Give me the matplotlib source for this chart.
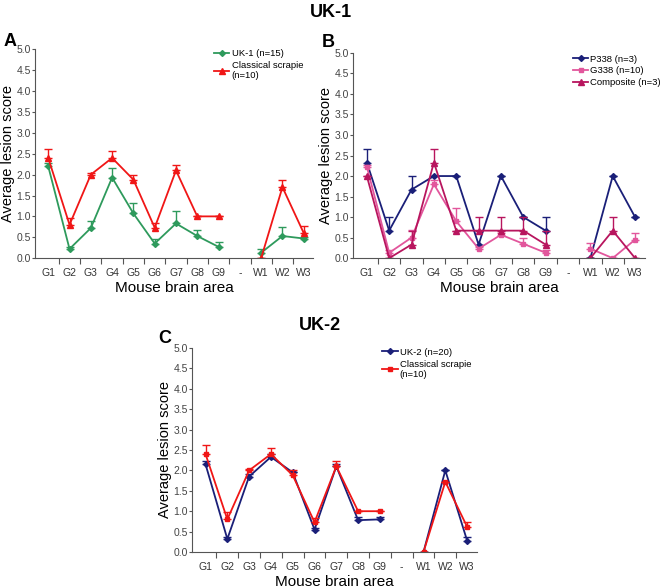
import numpy as np
import matplotlib
matplotlib.use("Agg")
import matplotlib.pyplot as plt

plt.rcParams["font.family"] = ["Liberation Sans", "DejaVu Sans"]

nan = np.nan
areas = ["G1", "G2", "G3", "G4", "G5", "G6", "G7", "G8", "G9", "-", "W1", "W2", "W3"]

# Panel A
uk1 = [2.2, 0.22, 0.72, 1.93, 1.07, 0.35, 0.83, 0.53, 0.27, nan, 0.13, 0.53, 0.47]
uk1_err = [0.08, 0.05, 0.18, 0.24, 0.25, 0.1, 0.3, 0.14, 0.11, nan, 0.09, 0.22, 0.04]
scrapie = [2.4, 0.8, 2.0, 2.4, 1.88, 0.73, 2.1, 1.0, 1.0, nan, 0.0, 1.7, 0.6]
scrapie_err = [0.22, 0.17, 0.03, 0.16, 0.12, 0.1, 0.12, 0.0, 0.0, nan, 0.0, 0.16, 0.16]

# Panel B
p338 = [2.33, 0.67, 1.67, 2.0, 2.0, 0.33, 2.0, 1.0, 0.67, nan, 0.0, 2.0, 1.0]
p338_err = [0.33, 0.33, 0.33, 0.0, 0.0, 0.0, 0.0, 0.0, 0.33, nan, 0.0, 0.0, 0.0]
g338 = [2.23, 0.13, 0.5, 1.8, 0.9, 0.23, 0.57, 0.35, 0.13, nan, 0.23, 0.0, 0.45]
g338_err = [0.05, 0.07, 0.18, 0.1, 0.33, 0.03, 0.05, 0.15, 0.07, nan, 0.14, 0.0, 0.17]
composite = [2.0, 0.0, 0.33, 2.33, 0.67, 0.67, 0.67, 0.67, 0.33, nan, 0.0, 0.67, 0.0]
composite_err = [0.0, 0.0, 0.33, 0.33, 0.0, 0.33, 0.33, 0.33, 0.33, nan, 0.0, 0.33, 0.0]

# Panel C
uk2 = [2.15, 0.32, 1.85, 2.33, 1.95, 0.55, 2.1, 0.78, 0.8, nan, 0.0, 2.0, 0.28]
uk2_err = [0.07, 0.05, 0.05, 0.07, 0.02, 0.05, 0.05, 0.09, 0.07, nan, 0.0, 0.0, 0.09]
scrapie_c = [2.4, 0.8, 2.0, 2.4, 1.88, 0.73, 2.1, 1.0, 1.0, nan, 0.0, 1.72, 0.62]
scrapie_c_err = [0.22, 0.17, 0.03, 0.16, 0.12, 0.1, 0.12, 0.0, 0.0, nan, 0.0, 0.0, 0.12]

GREEN = "#2e9a5c"
RED = "#f01616"
NAVY = "#1a1f78"
PINK = "#e2569c"
MAGENTA = "#b8155e"
GREY = "#555555"

fig = plt.figure(figsize=(6.61, 5.88), dpi=100)
x = np.arange(len(areas))


def style(ax):
    ax.set_xlim(-0.62, 12.45)
    ax.set_ylim(0, 5.0)
    ax.set_yticks(np.arange(0, 5.01, 0.5))
    ax.set_yticklabels([f"{v:.1f}" for v in np.arange(0, 5.01, 0.5)])
    ax.set_xticks(x)
    ax.set_xticklabels(areas)
    ax.set_xticks(np.arange(0.5, 12.0, 1.0), minor=True)
    ax.tick_params(axis="x", which="major", length=0, pad=7, labelsize=7.5, colors="#333333")
    ax.tick_params(axis="x", which="minor", length=4, width=0.8, color=GREY)
    ax.tick_params(axis="y", length=2, width=0.8, color=GREY, labelsize=7.5, labelcolor="#444444", pad=1)
    for s in ["top", "right"]:
        ax.spines[s].set_visible(False)
    for s in ["left", "bottom"]:
        ax.spines[s].set_color(GREY)
        ax.spines[s].set_linewidth(0.8)
    ax.set_xlabel("Mouse brain area", fontsize=11, labelpad=2)
    ax.set_ylabel("Average lesion score", fontsize=10.5, labelpad=1)


def series(ax, y, err, color, marker, ms, label):
    y = np.array(y, dtype=float)
    err = np.array(err, dtype=float)
    ax.errorbar(x, y, yerr=[np.zeros_like(err), err], fmt="none", ecolor=color,
                elinewidth=1.0, capsize=3, capthick=1.0)
    ax.plot(x, y, color=color, lw=1.3, marker=marker, ms=ms, mfc=color, mec=color, label=label)


leg_kw = dict(loc="upper left", frameon=False, fontsize=6.8, handlelength=1.6,
              handletextpad=0.25, labelspacing=0.3, borderaxespad=0)

# Panel A
axA = fig.add_axes([0.053, 0.561, 0.421, 0.355])
style(axA)
series(axA, uk1, uk1_err, GREEN, "D", 3, "UK-1 (n=15)")
series(axA, scrapie, scrapie_err, RED, "^", 4.5, "Classical scrapie\n(n=10)")
axA.legend(bbox_to_anchor=(0.63, 1.02), **leg_kw)

# Panel B
axB = fig.add_axes([0.534, 0.561, 0.442, 0.349])
style(axB)
series(axB, p338, p338_err, NAVY, "D", 3, "P338 (n=3)")
series(axB, g338, g338_err, PINK, "s", 3.5, "G338 (n=10)")
series(axB, composite, composite_err, MAGENTA, "^", 4.5, "Composite (n=3)")
axB.legend(bbox_to_anchor=(0.74, 1.01), **leg_kw)

# Panel C
axC = fig.add_axes([0.2905, 0.0612, 0.431, 0.347])
style(axC)
series(axC, uk2, uk2_err, NAVY, "D", 3, "UK-2 (n=20)")
series(axC, scrapie_c, scrapie_c_err, RED, "s", 3.5, "Classical scrapie\n(n=10)")
axC.legend(bbox_to_anchor=(0.655, 1.02), **leg_kw)

fig.text(0.5, 0.978, "UK-1", ha="center", va="center", fontsize=13, fontweight="bold")
fig.text(0.484, 0.447, "UK-2", ha="center", va="center", fontsize=13, fontweight="bold")
fig.text(0.006, 0.93, "A", ha="left", va="center", fontsize=13, fontweight="bold")
fig.text(0.487, 0.928, "B", ha="left", va="center", fontsize=13, fontweight="bold")
fig.text(0.240, 0.424, "C", ha="left", va="center", fontsize=13, fontweight="bold")

fig.savefig("out.png", dpi=100)
